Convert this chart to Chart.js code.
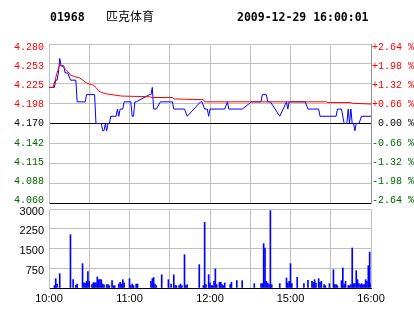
<!DOCTYPE html>
<html>
<head>
<meta charset="utf-8">
<script src="https://cdn.jsdelivr.net/npm/chart.js@4.4.0/dist/chart.umd.min.js"></script>
<style>
  html, body { margin: 0; padding: 0; background: #fff; }
  #wrap { position: relative; width: 414px; height: 314px; overflow: hidden; }
  canvas { position: absolute; left: 0; top: 0; }
  .hd { position: absolute; top: 10px; line-height: 13px; font: bold 11.5px "DejaVu Sans Mono", monospace; color: #000; white-space: nowrap; }
  .nm { top: 9px; font: 12px "Noto Sans CJK SC", sans-serif; line-height: 13px; }
</style>
</head>
<body>
<div id="wrap">
  <canvas id="priceChart" width="414" height="314"></canvas>
  <canvas id="volChart" width="414" height="314"></canvas>
  <div class="hd" style="left:50px">01968</div>
  <div class="hd nm" style="left:106px">匹克体育</div>
  <div class="hd" style="left:237px">2009-12-29 16:00:01</div>
</div>
<script>
// previous close and tick labels
const base = 4.170;
const pctSteps = [-2.64, -1.98, -1.32, -0.66, 0, 0.66, 1.32, 1.98, 2.64];
const priceLabels = ["4.060", "4.088", "4.115", "4.142", "4.170", "4.198", "4.225", "4.253", "4.280"];
const pctLabels = ["-2.64 %", "-1.98 %", "-1.32 %", "-0.66 %", " 0.00 %", "+0.66 %", "+1.32 %", "+1.98 %", "+2.64 %"];
const gridMinutes = [0, 30, 60, 90, 120, 150, 180, 210, 240];
const timeLabels = ["10:00", "", "11:00", "", "12:00", "", "15:00", "", "16:00"];
const volTicks = [0, 750, 1500, 2250, 3000];
const volLabels = ["", "750", "1500", "2250", "3000"];

// price (minute index from 10:00, trading minutes only)
const priceMin = [0, 4, 5, 6, 7, 8, 9, 11, 12, 14, 16, 20, 21, 27, 28, 34, 35, 39, 40, 41, 42, 43, 44, 45, 46, 50,
  51, 52, 53, 55, 56, 61, 62, 63, 64, 65, 75, 76, 77, 78, 80, 83, 92, 93, 101, 103, 113, 114, 116, 118, 119, 120,
  131, 133, 134, 144, 151, 158, 159, 162, 163, 165, 172, 177, 178, 179, 191, 193, 201, 202, 214, 215, 218, 220,
  222, 223, 224, 225, 226, 227, 228, 229, 231, 233, 240];
const priceVal = [4.22, 4.22, 4.23, 4.23, 4.24, 4.26, 4.25, 4.25, 4.24, 4.24, 4.23, 4.23, 4.20, 4.20, 4.21, 4.21,
  4.17, 4.17, 4.16, 4.16, 4.17, 4.16, 4.17, 4.17, 4.18, 4.18,
  4.19, 4.18, 4.19, 4.19, 4.20, 4.20, 4.18, 4.18, 4.20, 4.20, 4.21, 4.21, 4.22, 4.19, 4.19, 4.20, 4.20, 4.19, 4.19,
  4.18, 4.20, 4.20, 4.19, 4.19, 4.18, 4.19,
  4.19, 4.20, 4.19, 4.19, 4.20, 4.20, 4.21, 4.21, 4.20, 4.20, 4.18, 4.20, 4.19, 4.20, 4.20, 4.19, 4.19, 4.18,
  4.18, 4.19, 4.19, 4.17,
  4.17, 4.19, 4.17, 4.19, 4.17, 4.17, 4.16, 4.17, 4.17, 4.18, 4.18];

// average price
const avgMin = [0, 3, 4, 6, 8, 10, 13, 16, 19, 23, 26, 28, 33, 35, 37, 39, 43, 54, 75, 77, 92, 93, 115, 116,
  150, 190, 207, 208, 225, 226, 240];
const avgVal = [4.220, 4.220, 4.226, 4.240, 4.251, 4.249, 4.244, 4.237, 4.235, 4.233, 4.229, 4.226, 4.223, 4.220,
  4.215, 4.213, 4.211, 4.208, 4.207, 4.206, 4.206, 4.204, 4.203, 4.200,
  4.200, 4.200, 4.200, 4.199, 4.199, 4.198, 4.197];

// volume
const volMin = [4, 5, 6, 8, 16, 18, 20, 21, 25, 26, 27, 28, 29, 30, 32, 33, 34, 35, 36, 37, 38, 39, 40, 41, 43,
  44, 45, 47, 48, 49, 52, 53, 54, 55, 56, 60, 61, 62, 63, 65, 66, 76, 77, 78, 79, 80, 84, 89, 91, 93, 94, 95, 97,
  98, 99, 101, 102, 103, 112, 115, 116, 117, 119, 120, 121, 122, 123, 124, 125, 127, 128, 129, 130, 131, 135, 136,
  140, 144, 153, 158, 159, 160, 161, 162, 163, 164, 165, 166, 172, 177, 178, 179, 180, 181, 185, 190, 193, 196,
  197, 198, 199, 201, 202, 203, 205, 206, 209, 212, 213, 214, 215, 218, 219, 220, 221, 223, 224, 225, 226, 227,
  228, 229, 230, 231, 232, 233, 234, 235, 236, 237, 238, 239, 240];
const volVal = [89, 354, 150, 544, 2025, 316, 100, 150, 924, 200, 180, 250, 620, 250, 127, 200, 200, 200, 420,
  316, 316, 316, 150, 120, 127,
  127, 89, 280, 89, 89, 150, 220, 150, 316, 200, 354, 89, 150, 89, 150, 150, 253, 354, 400, 150, 89, 500, 316, 150,
  500, 89, 89, 89,
  150, 89, 1266, 89, 127, 886, 89, 2494, 127, 506, 200, 89, 89, 253, 722, 127, 215, 215, 127, 89, 190, 127, 215,
  278, 278, 165, 165, 165, 1684, 1519, 253, 190, 127, 2937, 127, 165, 380, 190, 253, 924, 165, 405, 165, 290, 253,
  215, 316, 190, 354, 215, 253, 127, 89, 165, 696, 127, 127, 89, 278, 760, 127, 253, 89, 89, 127, 1519, 165,
  165, 658, 316, 165, 127, 165, 127, 127, 316, 253, 848, 1367, 165];

const RED = "#ff0000", BLUE = "#0000ff", GREEN = "#006600", GRID = "#c0c0c0";
const tickVals = pctSteps.map(p => base * (1 + p / 100));
const monoFont = { family: "'Liberation Mono', monospace", size: 10 };
const sansFont = { family: "'Liberation Sans', Arial, sans-serif", size: 11 };
const sideColor = c => c.index < 4 ? GREEN : (c.index === 4 ? "#000" : RED);

// the side labels sit a little inside the top and bottom grid lines
const labelTicks = s => {
  const perPx = (s.max - s.min) / (s.bottom - s.top || 158);
  const lo = s.min + 2.5 * perPx, hi = s.max - 3.2 * perPx;
  s.ticks = tickVals.map((v, i) => ({ value: lo + i * (hi - lo) / 8 }));
};

new Chart(document.getElementById("priceChart"), {
  type: "line",
  data: {
    datasets: [
      {
        data: avgMin.map((m, i) => ({ x: m, y: avgVal[i] })),
        borderColor: RED,
        borderWidth: 1,
        pointRadius: 0,
        tension: 0
      },
      {
        data: priceMin.map((m, i) => ({ x: m, y: priceVal[i] })),
        borderColor: BLUE,
        borderWidth: 1,
        pointRadius: 0,
        tension: 0
      }
    ]
  },
  options: {
    responsive: false,
    animation: false,
    devicePixelRatio: 1,
    layout: { padding: { top: 44, bottom: 111, left: 0, right: 0 } },
    plugins: { legend: { display: false }, tooltip: { enabled: false } },
    scales: {
      x: {
        type: "linear",
        min: 0,
        max: 240,
        afterBuildTicks: s => { s.ticks = gridMinutes.map(v => ({ value: v })); },
        afterFit: s => { s.height = 0; },
        ticks: { display: false },
        grid: { color: GRID, drawTicks: false },
        border: { display: false }
      },
      y: {
        position: "left",
        min: tickVals[0],
        max: tickVals[8],
        afterBuildTicks: s => { s.ticks = tickVals.map(v => ({ value: v })); },
        afterFit: s => { s.width = 0; },
        ticks: { display: false },
        grid: { color: c => (c.index === 0 || c.index === 4) ? "#000" : GRID, drawTicks: false },
        border: { display: false }
      },
      yl: {
        position: "left",
        min: tickVals[0],
        max: tickVals[8],
        afterBuildTicks: labelTicks,
        afterFit: s => { s.width = 49; },
        ticks: {
          padding: 5,
          font: monoFont,
          color: sideColor,
          callback: (v, i) => priceLabels[i]
        },
        grid: { display: false, drawTicks: false },
        border: { color: GRID }
      },
      y2: {
        position: "right",
        min: tickVals[0],
        max: tickVals[8],
        afterBuildTicks: labelTicks,
        afterFit: s => { s.width = 43; },
        ticks: {
          padding: 1,
          font: monoFont,
          color: sideColor,
          callback: (v, i) => pctLabels[i]
        },
        grid: { display: false, drawTicks: false },
        border: { color: "#909090" }
      }
    }
  }
});

new Chart(document.getElementById("volChart"), {
  type: "bar",
  data: {
    datasets: [{
      data: volMin.map((m, i) => ({ x: m, y: volVal[i] })),
      backgroundColor: BLUE,
      borderWidth: 0,
      barThickness: 1
    }]
  },
  options: {
    responsive: false,
    animation: false,
    devicePixelRatio: 1,
    layout: { padding: { top: 209, bottom: 0, left: 0, right: 43 } },
    plugins: { legend: { display: false }, tooltip: { enabled: false } },
    scales: {
      x: {
        type: "linear",
        min: 0,
        max: 240,
        offset: false,
        afterBuildTicks: s => { s.ticks = gridMinutes.map(v => ({ value: v })); },
        afterFit: s => { s.height = 26; },
        ticks: {
          autoSkip: false,
          maxRotation: 0,
          padding: 4,
          font: sansFont,
          color: "#000",
          callback: (v, i) => timeLabels[i]
        },
        grid: { color: GRID, drawTicks: false, offset: false },
        border: { color: "#000" }
      },
      y: {
        min: 0,
        max: 3000,
        afterBuildTicks: s => { s.ticks = volTicks.map(v => ({ value: v })); },
        afterFit: s => { s.width = 49; },
        ticks: {
          padding: 5,
          labelOffset: 2.5,
          font: sansFont,
          color: "#000",
          callback: (v, i) => volLabels[i]
        },
        grid: { color: c => c.index === 0 ? "#000" : GRID, drawTicks: false },
        border: { color: GRID }
      }
    }
  }
});
</script>
</body>
</html>
